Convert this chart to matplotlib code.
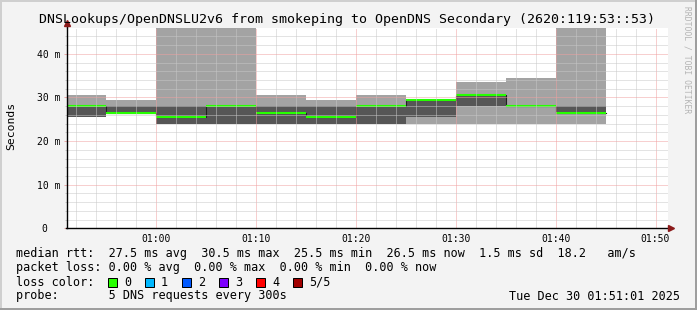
import matplotlib
matplotlib.use("Agg")
import matplotlib.pyplot as plt
import matplotlib.transforms as mtrans
from matplotlib.patches import Rectangle

W, H = 697, 310

# end of each 300s step, minutes after 00:00
step_end = [55, 60, 65, 70, 75, 80, 85, 90, 95, 100, 105]
# sorted pings (5 per step) in ms: lowest, 2nd, median, 4th, highest
ping_1 = [25.5, 26.5, 24.0, 24.0, 24.0, 24.0, 24.0, 24.0, 24.0, 24.0, 24.0]
ping_2 = [25.5, 26.5, 24.0, 24.0, 24.0, 24.0, 24.0, 25.5, 28.0, 28.0, 26.5]
median = [28.0, 26.5, 25.5, 28.0, 26.5, 25.5, 28.0, 29.5, 30.5, 28.0, 26.5]
ping_4 = [28.0, 28.0, 28.0, 28.0, 28.0, 28.0, 28.0, 29.5, 30.5, 28.0, 28.0]
ping_5 = [30.5, 29.5, 52.0, 52.0, 30.5, 29.5, 30.5, 29.5, 33.5, 34.5, 52.0]

xticks = [60, 70, 80, 90, 100, 110]
xtick_labels = ["01:00", "01:10", "01:20", "01:30", "01:40", "01:50"]
yticks = [0, 10, 20, 30, 40]
ytick_labels = ["0  ", "10 m", "20 m", "30 m", "40 m"]

loss_labels = ["0", "1", "2", "3", "4", "5/5"]
loss_colors = ["#26ff00", "#00b8ff", "#0059ff", "#7e00ff", "#ff0000", "#a10000"]

legend_rows = [
    "median rtt:  27.5 ms avg  30.5 ms max  25.5 ms min  26.5 ms now  1.5 ms sd  18.2   am/s",
    "packet loss: 0.00 % avg  0.00 % max  0.00 % min  0.00 % now",
    "loss color:",
    "probe:       5 DNS requests every 300s",
]
title = "DNSLookups/OpenDNSLU2v6 from smokeping to OpenDNS Secondary (2620:119:53::53)"
stamp = "Tue Dec 30 01:51:01 2025"

plt.rcParams['font.family'] = ['DejaVu Sans Mono']


def fx(x):
    return x / W


def fy(y):
    return 1 - y / H


fig = plt.figure(figsize=(W / 100, H / 100), dpi=100, facecolor="#f3f3f3")
ax = fig.add_axes([fx(66.5), fy(228.3), (668 - 66.5) / W, (228.3 - 27.7) / H])
ax.set_facecolor("white")

# step edges
edges = [e - 5 for e in step_end] + [step_end[-1]]
ext = lambda a: list(a) + [a[-1]]

ax.fill_between(edges, ext(ping_1), ext(ping_5), step="post", color="#a3a3a3", lw=0, zorder=1)
ax.fill_between(edges, ext(ping_2), ext(ping_4), step="post", color="#565656", lw=0, zorder=1.1)
ax.step(edges, ext(median), where="post", color="#202020", lw=0.8, zorder=2)
ax.hlines(median, edges[:-1], edges[1:], color=loss_colors[0], lw=1.5, zorder=2.2)

ax.set_xlim(51.04, 111.25)
ax.set_ylim(0, 46.0)

ax.set_xticks(xticks)
ax.set_xticklabels(xtick_labels)
ax.set_xticks(range(52, 112, 2), minor=True)
ax.set_yticks(yticks)
ax.set_yticklabels(ytick_labels)
ax.set_yticks(range(2, 46, 2), minor=True)

ax.set_axisbelow(False)
ax.grid(which="minor", color="#c8c8c8", lw=0.72, ls=(0, (1, 1)))
ax.grid(which="major", color="#f0a0a0", lw=0.72, ls=(0, (1, 1)))

ax.tick_params(axis="x", which="both", length=0, pad=3.8, labelsize=7)
ax.tick_params(axis="y", which="major", length=2.2, width=0.72, color="#e8a8a8", pad=2.4, labelsize=7)
ax.tick_params(axis="y", which="minor", length=1.4, width=0.72, color="#c8c8c8")

for s in ["top", "right"]:
    ax.spines[s].set_visible(False)
for s in ["left", "bottom"]:
    ax.spines[s].set_color("black")
    ax.spines[s].set_linewidth(1.0)
    ax.spines[s].set_zorder(4)

# axis arrows
up = ax.transAxes + mtrans.ScaledTranslation(0, 4.5 / 100, fig.dpi_scale_trans)
ax.plot([0], [1], marker="^", ms=4.5, color="#8b1a1a", transform=up, clip_on=False, zorder=5)
ax.plot([0, 0], [0.98, 1.0], color="black", lw=1.0, transform=up, clip_on=False, zorder=4)
right = ax.transAxes + mtrans.ScaledTranslation(3 / 100, 0, fig.dpi_scale_trans)
ax.plot([1], [0], marker=">", ms=4.5, color="#8b1a1a", transform=right, clip_on=False, zorder=5)

fig.text(fx(11), fy(126), "Seconds", rotation=90, ha="center", va="center", fontsize=8.2)
fig.text(fx(347), fy(19), title, ha="center", va="center", fontsize=9.5)
fig.text(fx(687), fy(60), "RRDTOOL / TOBI OETIKER", rotation=270, ha="center", va="center",
         fontsize=5.8, color="#b4b4b4")

row_y = [254, 268, 282, 296]
for txt, y in zip(legend_rows, row_y):
    fig.text(fx(16), fy(y), txt, ha="left", va="center", fontsize=8.5)
fig.text(fx(680), fy(row_y[3]), stamp, ha="right", va="center", fontsize=8.5)

for i, (lab, c) in enumerate(zip(loss_labels, loss_colors)):
    x0 = 108 + i * 37
    fig.add_artist(Rectangle((fx(x0), fy(286.5)), 9 / W, 8.5 / H, transform=fig.transFigure,
                             facecolor=c, edgecolor="black", lw=0.72))
    fig.text(fx(x0 + 16), fy(row_y[2]), lab, ha="left", va="center", fontsize=8.5)

# 3d frame like rrdtool
fig.add_artist(Rectangle((0, fy(2)), 1, 2 / H, transform=fig.transFigure, facecolor="#cfcfcf", lw=0))
fig.add_artist(Rectangle((0, 0), 2 / W, 1, transform=fig.transFigure, facecolor="#cfcfcf", lw=0))
fig.add_artist(Rectangle((0, 0), 1, 2 / H, transform=fig.transFigure, facecolor="#9e9e9e", lw=0))
fig.add_artist(Rectangle((1 - 2 / W, 0), 2 / W, 1, transform=fig.transFigure, facecolor="#9e9e9e", lw=0))

fig.savefig("out.png", dpi=100, facecolor=fig.get_facecolor())
